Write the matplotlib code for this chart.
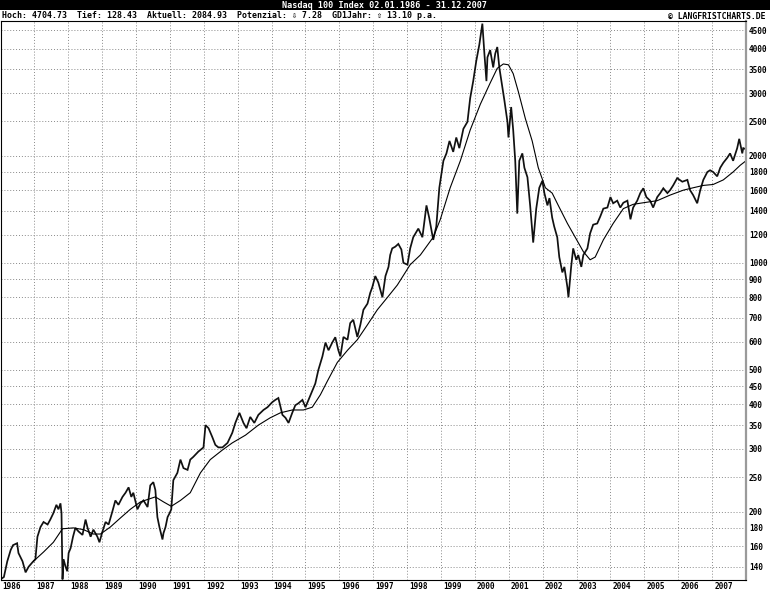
import matplotlib
matplotlib.use("Agg")
import matplotlib.pyplot as plt
from matplotlib.patches import Rectangle

# Nasdaq 100 (decimal years, index points)
price_years = [1986.00, 1986.10, 1986.20, 1986.30, 1986.37, 1986.49, 1986.53, 1986.65, 1986.74, 1986.83,
               1986.94, 1987.03, 1987.09, 1987.18, 1987.27, 1987.39, 1987.47, 1987.56, 1987.65, 1987.71,
               1987.77, 1987.80, 1987.83, 1987.86, 1987.92, 1987.97, 1988.01, 1988.07, 1988.14, 1988.21,
               1988.30, 1988.42, 1988.51, 1988.57, 1988.66, 1988.74, 1988.86, 1988.92, 1989.01, 1989.10,
               1989.19, 1989.30, 1989.39, 1989.48, 1989.60, 1989.69, 1989.78, 1989.86, 1989.92, 1990.04,
               1990.13, 1990.22, 1990.34, 1990.42, 1990.51, 1990.57, 1990.63, 1990.69, 1990.78, 1990.81,
               1990.87, 1990.93, 1990.99, 1991.04, 1991.10, 1991.22, 1991.31, 1991.40, 1991.52, 1991.60,
               1991.69, 1991.84, 1991.99, 1992.05, 1992.14, 1992.25, 1992.34, 1992.43, 1992.55, 1992.70,
               1992.84, 1992.93, 1993.05, 1993.17, 1993.26, 1993.37, 1993.49, 1993.61, 1993.76, 1993.88,
               1994.02, 1994.11, 1994.20, 1994.32, 1994.41, 1994.50, 1994.61, 1994.70, 1994.79, 1994.91,
               1995.00, 1995.09, 1995.20, 1995.29, 1995.38, 1995.50, 1995.59, 1995.68, 1995.79, 1995.88,
               1995.97, 1996.03, 1996.12, 1996.24, 1996.32, 1996.41, 1996.53, 1996.62, 1996.71, 1996.83,
               1996.91, 1996.97, 1997.06, 1997.15, 1997.27, 1997.36, 1997.45, 1997.50, 1997.56, 1997.65,
               1997.74, 1997.83, 1997.89, 1998.01, 1998.09, 1998.18, 1998.33, 1998.45, 1998.57, 1998.65,
               1998.77, 1998.86, 1998.95, 1999.07, 1999.16, 1999.25, 1999.36, 1999.45, 1999.54, 1999.66,
               1999.78, 1999.86, 1999.95, 2000.04, 2000.13, 2000.22, 2000.28, 2000.34, 2000.37, 2000.45,
               2000.54, 2000.60, 2000.66, 2000.72, 2000.81, 2000.87, 2000.96, 2000.99, 2001.07, 2001.13,
               2001.19, 2001.25, 2001.31, 2001.40, 2001.46, 2001.55, 2001.63, 2001.72, 2001.81, 2001.90,
               2001.99, 2002.05, 2002.14, 2002.20, 2002.28, 2002.34, 2002.43, 2002.49, 2002.58, 2002.64,
               2002.73, 2002.76, 2002.84, 2002.90, 2002.99, 2003.05, 2003.14, 2003.20, 2003.32, 2003.40,
               2003.49, 2003.61, 2003.70, 2003.79, 2003.91, 2004.00, 2004.08, 2004.20, 2004.29, 2004.38,
               2004.50, 2004.59, 2004.67, 2004.79, 2004.88, 2004.97, 2005.06, 2005.17, 2005.26, 2005.38,
               2005.47, 2005.56, 2005.68, 2005.76, 2005.85, 2005.97, 2006.12, 2006.27, 2006.35, 2006.44,
               2006.56, 2006.65, 2006.74, 2006.86, 2006.94, 2007.03, 2007.15, 2007.24, 2007.33, 2007.45,
               2007.53, 2007.62, 2007.74, 2007.80, 2007.89, 2007.92, 2008.00]
price = [129, 131, 145, 156, 161, 163, 153, 145, 135, 140,
         144, 147, 170, 181, 187, 184, 190, 198, 209, 203,
         211, 198, 129, 147, 140, 136, 153, 158, 170, 180,
         176, 172, 190, 180, 170, 178, 170, 164, 176, 187,
         184, 200, 215, 209, 220, 226, 234, 220, 226, 203,
         211, 215, 206, 237, 242, 230, 193, 181, 167, 174,
         181, 193, 198, 203, 245, 257, 280, 265, 262, 280,
         285, 295, 303, 350, 343, 324, 308, 303, 303, 312,
         333, 355, 379, 355, 343, 369, 355, 374, 386, 393,
         406, 412, 417, 374, 367, 355, 379, 398, 403, 412,
         393, 412, 437, 458, 500, 546, 597, 568, 597, 618,
         568, 546, 619, 608, 677, 692, 619, 670, 738, 768,
         823, 853, 918, 880, 800, 918, 974, 1052, 1098, 1110,
         1130, 1090, 1000, 988, 1098, 1180, 1248, 1180, 1450, 1340,
         1160, 1265, 1625, 1935, 2030, 2200, 2050, 2250, 2100, 2380,
         2490, 2900, 3240, 3690, 4100, 4700, 3870, 3240, 3780, 3960,
         3540, 3870, 4040, 3540, 3120, 2860, 2490, 2250, 2740, 2360,
         1935, 1375, 1935, 2030, 1850, 1740, 1450, 1140, 1420, 1625,
         1700, 1570, 1450, 1520, 1340, 1265, 1180, 1038, 940, 974,
         853, 800, 974, 1098, 1020, 1052, 974, 1052, 1098, 1210,
         1280, 1290, 1350, 1420, 1430, 1530, 1470, 1495, 1430, 1475,
         1495, 1325, 1430, 1495, 1570, 1620, 1530, 1495, 1430, 1530,
         1570, 1620, 1570, 1600, 1650, 1730, 1690, 1710, 1600, 1550,
         1470, 1600, 1710, 1800, 1820, 1800, 1750, 1850, 1910, 1975,
         2030, 1935, 2100, 2230, 2030, 2100, 2085]

# one-year moving average (GD1Jahr)
ma_years = [1986.97, 1987.27, 1987.56, 1987.83, 1988.15, 1988.45, 1988.74, 1988.95, 1989.24, 1989.54,
            1989.83, 1990.13, 1990.57, 1990.81, 1991.04, 1991.31, 1991.60, 1991.90, 1992.19, 1992.55,
            1992.84, 1993.23, 1993.61, 1993.96, 1994.26, 1994.61, 1994.94, 1995.20, 1995.44, 1995.65,
            1995.94, 1996.24, 1996.53, 1996.83, 1997.12, 1997.42, 1997.71, 1998.09, 1998.39, 1998.77,
            1998.98, 1999.27, 1999.57, 1999.86, 2000.16, 2000.45, 2000.66, 2000.84, 2000.99, 2001.13,
            2001.28, 2001.49, 2001.69, 2001.87, 2002.08, 2002.28, 2002.46, 2002.73, 2002.96, 2003.20,
            2003.40, 2003.55, 2003.79, 2004.08, 2004.38, 2004.67, 2004.97, 2005.38, 2005.76, 2006.15,
            2006.44, 2006.74, 2007.03, 2007.33, 2007.62, 2007.83, 2008.00]
ma = [145, 154, 164, 179, 180, 178, 173, 173, 181, 192,
      203, 213, 220, 213, 207, 215, 226, 257, 280, 298,
      312, 328, 350, 367, 379, 386, 386, 393, 426, 466,
      525, 568, 608, 670, 738, 800, 866, 988, 1052, 1180,
      1325, 1625, 1935, 2360, 2790, 3200, 3520, 3620, 3600, 3400,
      3030, 2540, 2200, 1850, 1625, 1570, 1450, 1290, 1180, 1075,
      1020, 1038, 1160, 1290, 1420, 1460, 1475, 1495, 1550, 1600,
      1625, 1650, 1660, 1710, 1800, 1880, 1935]

y_ticks = [140, 160, 180, 200, 250, 300, 350, 400, 450, 500, 600, 700, 800, 900,
           1000, 1200, 1400, 1600, 1800, 2000, 2500, 3000, 3500, 4000, 4500]
years = list(range(1986, 2008))

title = "Nasdaq 100 Index 02.01.1986 - 31.12.2007"
info = "Hoch: 4704.73  Tief: 128.43  Aktuell: 2084.93  Potenzial: \u21e9 7.28  GD1Jahr: \u21e7 13.10 p.a."
copyright_text = "\u00a9 LANGFRISTCHARTS.DE"

mono = ["DejaVu Sans Mono", "DejaVu Sans"]

fig = plt.figure(figsize=(7.7, 5.9), dpi=100)
W, H = 770.0, 590.0

# black title bar
fig.patches.append(Rectangle((0, 1 - 10 / H), 1, 10 / H, transform=fig.transFigure,
                             facecolor="black", edgecolor="none"))
fig.text(0.5, 1 - 5.5 / H, title, color="white", ha="center", va="center",
         fontsize=6.1, family=mono, fontweight="bold")
fig.text(2 / W, 1 - 16 / H, info, color="black", ha="left", va="center",
         fontsize=5.95, family=mono, fontweight="bold")
fig.text(766 / W, 1 - 16 / H, copyright_text, color="black", ha="right", va="center",
         fontsize=5.9, family=mono, fontweight="bold")

ax = fig.add_axes([0.5 / W, 10 / H, 745.5 / W, (580 - 21) / H])
ax.plot(price_years, price, color="#111111", linewidth=1.25, solid_joinstyle="miter")
ax.plot(ma_years, ma, color="black", linewidth=0.8)

ax.set_yscale("log")
ax.set_ylim(128.5, 4780)
ax.set_xlim(1986.0, 2008.0)

ax.yaxis.tick_right()
ax.set_yticks(y_ticks)
ax.set_yticklabels([str(v) for v in y_ticks], fontsize=5.6, family=mono, fontweight="bold")
ax.yaxis.set_minor_locator(matplotlib.ticker.NullLocator())
ax.tick_params(axis="y", length=0, pad=2)

ax.set_xticks(years[1:])
ax.set_xticklabels([])
ax.tick_params(axis="x", length=0)
for yr in years:
    ax.annotate(str(yr), xy=(yr, 0), xycoords=("data", "axes fraction"),
                xytext=(1.5, -1.2), textcoords="offset points", ha="left", va="top",
                fontsize=5.6, family=mono, fontweight="bold", annotation_clip=False)

ax.grid(True, which="major", color="#8a8a8a", linestyle=(0, (1, 2)), linewidth=0.7)

for side in ["left", "top", "bottom"]:
    ax.spines[side].set_color("black")
    ax.spines[side].set_linewidth(0.8)
ax.spines["right"].set_color("#9a9a9a")
ax.spines["right"].set_linewidth(1.6)

fig.savefig("out.png", dpi=100)
